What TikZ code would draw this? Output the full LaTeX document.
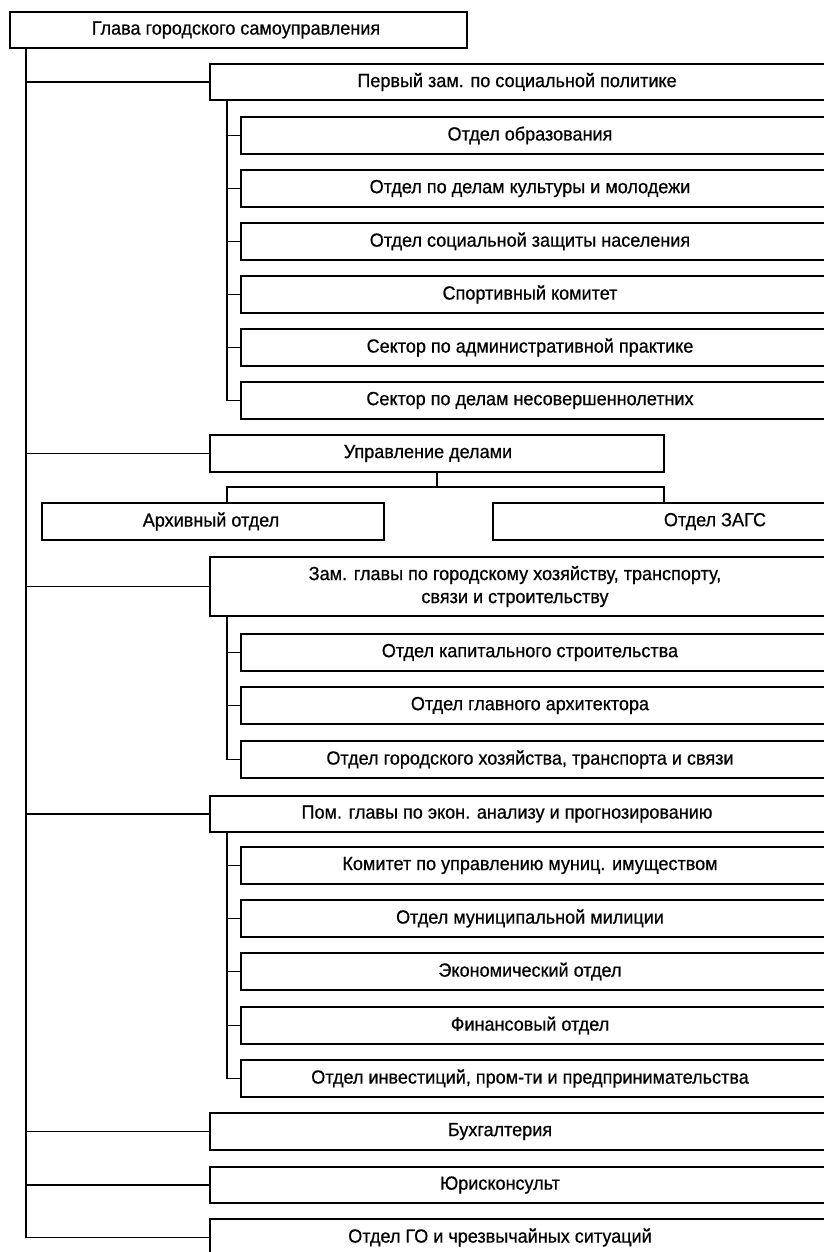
\documentclass[tikz,border=0pt]{standalone}
\usepackage{fontspec}
\setmainfont{Liberation Sans}[FakeStretch=0.95,FakeBold=0.6]
\begin{document}
\begin{tikzpicture}[x=1pt,y=-1pt,
  frame/.style={draw, line width=1.6pt, inner sep=0pt, outer sep=0pt, anchor=north west},
  caption/.style={inner sep=0pt, align=center, font=\fontsize{19}{23}\selectfont},
  link/.style={line width=1.6pt}]
\useasboundingbox (0,0) rectangle (823,1252);

% box: name, left, top, bottom, right, text x, text
\newcommand\orgunit[7]{%
  \node[frame, minimum width={(#5-#2)*1pt}, minimum height={(#4-#3)*1pt}] (#1) at (#2,#3) {};
  \node[caption] (#1-t) at (#6,{(#3+#4)/2}) {#7};}

% head of the administration
\orgunit{head}{10}{12}{48}{467}{236}{Глава городского самоуправления}

% first deputy and his departments
\orgunit{dep1}{210}{64}{100}{850}{517}{Первый зам. по социальной политике}
\orgunit{d1a}{241}{117}{154}{850}{530}{Отдел образования}
\orgunit{d1b}{241}{170}{207}{850}{530}{Отдел по делам культуры и молодежи}
\orgunit{d1c}{241}{223}{260}{850}{530}{Отдел социальной защиты населения}
\orgunit{d1d}{241}{276}{313}{850}{530}{Спортивный комитет}
\orgunit{d1e}{241}{329}{366}{850}{530}{Сектор по административной практике}
\orgunit{d1f}{241}{382}{419}{850}{530}{Сектор по делам несовершеннолетних}

% office management
\orgunit{mgmt}{210}{435}{472}{664}{428}{Управление делами}
\orgunit{arch}{42}{503}{540}{384}{211}{Архивный отдел}
\orgunit{zags}{493}{503}{540}{950}{715}{Отдел ЗАГС}

% deputy for municipal economy
\orgunit{dep2}{210}{557}{616}{850}{515}{Зам. главы по городскому хозяйству, транспорту,\\связи и строительству}
\orgunit{d2a}{241}{634}{671}{850}{530}{Отдел капитального строительства}
\orgunit{d2b}{241}{687}{724}{850}{530}{Отдел главного архитектора}
\orgunit{d2c}{241}{741}{778}{850}{530}{Отдел городского хозяйства, транспорта и связи}

% assistant for economic analysis
\orgunit{dep3}{210}{796}{832}{850}{507}{Пом. главы по экон. анализу и прогнозированию}
\orgunit{d3a}{241}{847}{884}{850}{530}{Комитет по управлению муниц. имуществом}
\orgunit{d3b}{241}{900}{937}{850}{530}{Отдел муниципальной милиции}
\orgunit{d3c}{241}{953}{990}{850}{530}{Экономический отдел}
\orgunit{d3d}{241}{1007}{1044}{850}{530}{Финансовый отдел}
\orgunit{d3e}{241}{1060}{1097}{850}{530}{Отдел инвестиций, пром-ти и предпринимательства}

% directly subordinated services
\orgunit{acc}{210}{1113}{1150}{850}{500}{Бухгалтерия}
\orgunit{law}{210}{1167}{1203}{850}{500}{Юрисконсульт}
\orgunit{civ}{210}{1219}{1256}{850}{500}{Отдел ГО и чрезвычайных ситуаций}

% main trunk from the head
\coordinate (trunk) at ([xshift=16pt]head.south west);
\draw[link] (trunk) |- (civ.west);
\foreach \n in {dep1,mgmt,dep2,dep3,acc,law}
  \draw[link] (trunk |- \n.west) -- (\n.west);

% branches of the first deputy
\coordinate (t1) at ([xshift=17pt]dep1.south west);
\draw[link] (t1) |- (d1f.west);
\foreach \n in {d1a,d1b,d1c,d1d,d1e}
  \draw[link] (t1 |- \n.west) -- (\n.west);

% branches of the office management
\coordinate (fork) at (mgmt.south |- 0,487);
\draw[link] (mgmt.south) -- (fork);
\draw[link] (arch.north -| 227,0) |- (fork) -| (zags.north west -| mgmt.south east);

% branches of the second deputy
\coordinate (t2) at ([xshift=17pt]dep2.south west);
\draw[link] (t2) |- (d2c.west);
\foreach \n in {d2a,d2b}
  \draw[link] (t2 |- \n.west) -- (\n.west);

% branches of the assistant
\coordinate (t3) at ([xshift=17pt]dep3.south west);
\draw[link] (t3) |- (d3e.west);
\foreach \n in {d3a,d3b,d3c,d3d}
  \draw[link] (t3 |- \n.west) -- (\n.west);
\end{tikzpicture}
\end{document}
